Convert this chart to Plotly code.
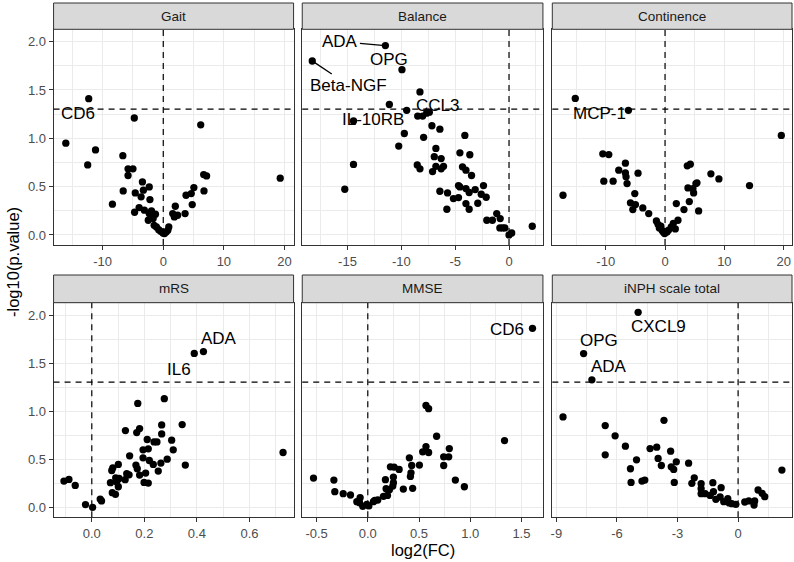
import numpy as np
import plotly.graph_objects as go

# ---------------- data ----------------
panel_names = ["Gait", "Balance", "Continence", "mRS", "MMSE", "iNPH scale total"]

gait_pts = [(-4.78,1.21),(6.18,1.14),(-16.08,0.95),(-11.18,0.88),(-12.47,0.725),(-6.67,0.82),(-5.81,0.684),
            (-5.0,0.684),(-5.81,0.615),(-6.61,0.456),(-8.39,0.318),(-3.44,0.549),(-4.62,0.435),(-3.66,0.394),
            (-3.28,0.463),(-2.31,0.497),(-2.2,0.366),(-4.73,0.235),(-3.98,0.283),(-3.12,0.256),(-2.31,0.221),
            (-1.94,0.249),(-1.29,0.214),(-2.47,0.152),(-1.67,0.169),(-1.5,0.1),(-1.13,0.083),(-0.75,0.055),
            (-0.43,0.038),(-0.05,0.02),(0.2,0.014),(0.48,0.031),(0.91,0.083),(0.75,0.048),(1.56,0.221),
            (1.99,0.297),(1.83,0.187),(2.37,0.204),(3.6,0.221),(3.76,0.411),(4.62,0.428),(5.05,0.49),
            (4.78,0.314),(6.72,0.456),(6.67,0.625),(7.15,0.611),(19.3,0.587)]
gait_labels = [("CD6", -12.3, 1.41)]

balance_pts = [(-9.5,1.29),(-8.48,1.23),(-8.02,1.23),(-7.65,1.26),(-7.4,1.27),(-14.44,1.18),(-7.16,1.13),
               (-6.42,1.095),(-9.72,1.05),(-7.93,1.01),(-4.1,1.03),(-10.24,0.92),(-6.79,0.895),(-6.94,0.81),
               (-6.3,0.79),(-4.56,0.85),(-3.64,0.83),(-14.44,0.73),(-8.52,0.725),(-8.27,0.684),(-7.1,0.656),
               (-6.79,0.71),(-6.3,0.684),(-6.08,0.71),(-4.32,0.705),(-4.0,0.67),(-3.48,0.615),(-15.25,0.473),
               (-4.69,0.511),(-4.56,0.497),(-4.0,0.48),(-3.7,0.439),(-3.14,0.47),(-2.37,0.511),(-6.42,0.452),
               (-5.71,0.435),(-5.16,0.376),(-4.69,0.387),(-4.0,0.325),(-3.7,0.266),(-2.9,0.328),(-2.58,0.421),
               (-2.12,0.39),(-5.77,0.266),(-1.14,0.221),(-2.06,0.152),(-1.54,0.152),(-0.82,0.169),(-0.85,0.073),
               (-0.6,0.073),(-0.39,0.073),(0.0,0.0),(0.25,0.02),(2.16,0.09)]
balance_labels = [("ADA", -11.48, 1.96), ("OPG", -9.94, 1.71), ("Beta-NGF", -18.27, 1.80),
                  ("CCL3", -8.27, 1.48), ("IL-10RB", -11.11, 1.35)]

continence_pts = [(-6.17,1.29),(19.6,1.03),(-10.49,0.839),(-9.48,0.832),(-6.68,0.743),(-7.8,0.67),(-6.68,0.642),
                  (-6.57,0.601),(-4.55,0.639),(-10.32,0.556),(-8.75,0.556),(-6.4,0.532),(-17.2,0.411),
                  (-5.1,0.428),(-5.83,0.332),(-4.99,0.314),(-5.43,0.263),(-3.75,0.28),(-2.75,0.221),(-1.46,0.145),
                  (-1.18,0.11),(-0.96,0.073),(-0.51,0.048),(-0.07,0.014),(0.32,0.031),(1.05,0.083),(1.73,0.062),
                  (2.18,0.152),(1.9,0.325),(3.19,0.263),(4.09,0.345),(5.66,0.249),(3.86,0.487),(4.82,0.435),
                  (4.7,0.48),(5.21,0.532),(5.38,0.539),(3.75,0.715),(4.26,0.732),(7.73,0.632),(9.08,0.58),
                  (14.24,0.511),(-0.3,0.03),(0.6,0.05),(-0.7,0.09),(1.4,0.12)]
continence_labels = [("MCP-1", -15.13, 1.413)]

mrs_pts = [(0.276,1.13),(0.175,1.08),(0.344,0.86),(0.266,0.857),(0.182,0.819),(0.171,0.777),(0.128,0.798),
           (0.266,0.763),(0.211,0.705),(0.304,0.698),(0.237,0.68),(0.248,0.68),(0.195,0.598),(0.215,0.608),
           (0.31,0.598),(0.195,0.515),(0.219,0.487),(0.234,0.446),(0.253,0.377),(0.263,0.46),(0.287,0.501),
           (0.356,0.439),(0.144,0.535),(0.168,0.439),(0.173,0.401),(0.182,0.335),(0.205,0.356),(0.199,0.259),
           (0.215,0.252),(0.133,0.349),(0.142,0.338),(0.127,0.287),(0.104,0.3),(0.101,0.446),(0.08,0.411),
           (0.076,0.383),(0.091,0.307),(0.071,0.256),(0.095,0.263),(0.101,0.214),(0.078,0.152),(0.09,0.135),
           (0.032,0.086),(0.037,0.066),(-0.024,0.028),(0.003,0.0),(-0.106,0.273),(-0.087,0.29),(-0.063,0.228),
           (0.728,0.57)]
mrs_labels = [("ADA", 0.425, 1.62), ("IL6", 0.39, 1.60)]

mmse_pts = [(1.335,0.694),(0.568,1.06),(0.594,1.026),(0.672,0.739),(0.568,0.632),(0.536,0.577),(0.594,0.57),
            (0.796,0.611),(0.741,0.525),(0.79,0.525),(0.741,0.435),(0.406,0.515),(0.429,0.435),(0.504,0.439),
            (0.422,0.359),(0.416,0.321),(0.438,0.197),(0.347,0.19),(0.855,0.283),(0.943,0.214),(0.221,0.421),
            (0.257,0.418),(0.306,0.394),(0.25,0.314),(0.172,0.287),(0.25,0.256),(0.244,0.221),(0.211,0.183),
            (0.179,0.193),(0.192,0.124),(0.153,0.114),(0.097,0.076),(0.068,0.073),(0.055,0.059),(-0.01,0.031),
            (0.01,0.014),(-0.049,0.01),(-0.081,0.048),(-0.075,0.1),(-0.107,0.059),(-0.169,0.128),(-0.24,0.142),
            (-0.322,0.162),(-0.331,0.283),(-0.53,0.304)]
mmse_labels = [("CD6", 1.608, 1.862)]

inph_pts = [(-8.67,0.94),(-3.67,0.905),(-6.58,0.85),(-6.09,0.743),(-5.58,0.636),(-6.58,0.546),(-5.03,0.494),
            (-5.33,0.401),(-5.3,0.259),(-4.76,0.273),(-4.62,0.283),(-4.36,0.611),(-4.03,0.625),(-3.96,0.508),
            (-3.8,0.435),(-3.34,0.584),(-3.06,0.473),(-3.31,0.421),(-3.19,0.394),(-3.16,0.259),(-2.45,0.459),
            (-2.17,0.307),(-2.29,0.249),(-1.83,0.245),(-1.83,0.193),(-1.83,0.142),(-1.63,0.142),(-1.38,0.124),
            (-1.25,0.256),(-1.22,0.162),(-1.1,0.083),(-0.84,0.204),(-0.89,0.107),(-0.71,0.059),(-0.51,0.09),
            (-0.44,0.045),(-0.31,0.038),(-0.11,0.031),(0.33,0.055),(0.53,0.066),(0.79,0.024),(0.82,0.066),
            (0.99,0.18),(1.19,0.145),(1.32,0.11),(2.17,0.387)]
inph_labels = [("CXCL9", -4.95, 2.028), ("OPG", -7.65, 1.599), ("ADA", -7.24, 1.326)]

# tick labels
y_tickvals = [0, 0.5, 1.0, 1.5, 2.0]
y_ticktext = ["0.0", "0.5", "1.0", "1.5", "2.0"]
gait_ticks = ([-10, 0, 10, 20], ["-10", "0", "10", "20"])
balance_ticks = ([-15, -10, -5, 0], ["-15", "-10", "-5", "0"])
continence_ticks = ([-10, 0, 10, 20], ["-10", "0", "10", "20"])
mrs_ticks = ([0.0, 0.2, 0.4, 0.6], ["0.0", "0.2", "0.4", "0.6"])
mmse_ticks = ([-0.5, 0.0, 0.5, 1.0, 1.5], ["-0.5", "0.0", "0.5", "1.0", "1.5"])
inph_ticks = ([-9, -6, -3, 0], ["-9", "-6", "-3", "0"])

SIG = -np.log10(0.05)

# ---------------- layout / styling ----------------
W, H = 794, 562
col_px = [(51.7, 292.3), (301.0, 542.3), (551.7, 792.0)]
row_px = [(29.3, 245.0, 3.0), (302.7, 517.3, 275.0)]  # panel top, panel bottom, strip top

panels = [
    dict(pts=gait_pts, labels=gait_labels, ticks=gait_ticks, xr=[-18.1, 21.5], minor=5),
    dict(pts=balance_pts, labels=balance_labels, ticks=balance_ticks, xr=[-19.2, 3.15], minor=2.5),
    dict(pts=continence_pts, labels=continence_labels, ticks=continence_ticks, xr=[-19.0, 21.4], minor=5),
    dict(pts=mrs_pts, labels=mrs_labels, ticks=mrs_ticks, xr=[-0.1455, 0.768], minor=0.1),
    dict(pts=mmse_pts, labels=mmse_labels, ticks=mmse_ticks, xr=[-0.64, 1.71], minor=0.25),
    dict(pts=inph_pts, labels=inph_labels, ticks=inph_ticks, xr=[-9.2, 2.67], minor=1.5),
]

# label placement offsets in pixels (dx, dy downwards) and whether a segment is drawn
label_style = {
    (0, "CD6"): (-11, 15, False),
    (1, "ADA"): (-45, -4, True),
    (1, "OPG"): (-13, -10, False),
    (1, "Beta-NGF"): (36, 24, True),
    (1, "CCL3"): (18, 14, False),
    (1, "IL-10RB"): (-16, 15, False),
    (2, "MCP-1"): (24, 15, False),
    (3, "ADA"): (16, -13, False),
    (3, "IL6"): (-15, 16, False),
    (4, "CD6"): (-25, 1, False),
    (5, "CXCL9"): (20, 14, False),
    (5, "OPG"): (15, -13, False),
    (5, "ADA"): (17, -13, False),
}

FONT = "Liberation Sans, Arial, Helvetica, sans-serif"
GRID = "#EBEBEB"
BORDER = "#333333"
Y_RANGE = [-0.104, 2.128]

fig = go.Figure()
shapes, annotations = [], []
layout = dict(width=W, height=H, margin=dict(l=0, r=0, t=0, b=0), autosize=False,
              paper_bgcolor="white", plot_bgcolor="white", showlegend=False,
              font=dict(family=FONT, color="black"))

for i, p in enumerate(panels):
    n = i + 1
    sfx = "" if n == 1 else str(n)
    r, c = divmod(i, 3)
    x0p, x1p = col_px[c]
    ptop, pbot, stop = row_px[r]
    xd = [x0p / W, x1p / W]
    yd = [1 - pbot / H, 1 - ptop / H]

    xs = [q[0] for q in p["pts"]] + [l[1] for l in p["labels"]]
    ys = [q[1] for q in p["pts"]] + [l[2] for l in p["labels"]]
    fig.add_trace(go.Scatter(x=xs, y=ys, mode="markers", xaxis="x" + sfx, yaxis="y" + sfx,
                             marker=dict(size=7.3, color="black", line=dict(width=0)),
                             hoverinfo="skip"))

    lo, hi = p["xr"]
    m = p["minor"]
    minor_vals = [v for v in np.arange(np.floor(lo / m) * m, hi + m, m) if lo <= v <= hi]
    layout["xaxis" + sfx] = dict(
        domain=xd, anchor="y" + sfx, range=p["xr"], tickmode="array",
        tickvals=p["ticks"][0], ticktext=p["ticks"][1],
        showgrid=True, gridcolor=GRID, gridwidth=1.1, zeroline=False,
        showline=True, mirror=True, linecolor=BORDER, linewidth=1,
        ticks="outside", ticklen=4, tickwidth=1, tickcolor=BORDER,
        tickfont=dict(size=13, color="#4D4D4D", family=FONT),
        minor=dict(tickmode="array", tickvals=minor_vals, showgrid=True, gridcolor=GRID,
                   gridwidth=0.6, ticks=""),
        fixedrange=True,
    )
    ymin_vals = [0.25, 0.75, 1.25, 1.75]
    layout["yaxis" + sfx] = dict(
        domain=yd, anchor="x" + sfx, range=Y_RANGE, tickmode="array",
        tickvals=y_tickvals, ticktext=y_ticktext,
        showticklabels=(c == 0), ticks="outside" if c == 0 else "",
        ticklen=4, tickwidth=1, tickcolor=BORDER,
        tickfont=dict(size=13, color="#4D4D4D", family=FONT),
        showgrid=True, gridcolor=GRID, gridwidth=1.1, zeroline=False,
        showline=True, mirror=True, linecolor=BORDER, linewidth=1,
        minor=dict(tickmode="array", tickvals=ymin_vals, showgrid=True, gridcolor=GRID,
                   gridwidth=0.6, ticks=""),
        fixedrange=True,
    )

    # dashed reference lines
    shapes.append(dict(type="line", xref="x" + sfx + " domain", yref="y" + sfx,
                       x0=0, x1=1, y0=SIG, y1=SIG,
                       line=dict(color="black", width=1.2, dash="6px,5px")))
    shapes.append(dict(type="line", xref="x" + sfx, yref="y" + sfx + " domain",
                       x0=0, x1=0, y0=0, y1=1,
                       line=dict(color="black", width=1.2, dash="6px,5px")))

    # strip
    shapes.append(dict(type="rect", xref="paper", yref="paper",
                       x0=xd[0], x1=xd[1], y0=1 - ptop / H, y1=1 - stop / H,
                       fillcolor="#D9D9D9", line=dict(color=BORDER, width=1), layer="above"))
    annotations.append(dict(xref="paper", yref="paper", x=(xd[0] + xd[1]) / 2,
                            y=1 - (ptop + stop) / 2 / H, text=panel_names[i], showarrow=False,
                            xanchor="center", yanchor="middle",
                            font=dict(size=13.5, color="#1A1A1A", family=FONT)))

    # gene labels
    for name, lx, ly in p["labels"]:
        dx, dy, seg = label_style[(i, name)]
        if seg:
            annotations.append(dict(xref="x" + sfx, yref="y" + sfx, x=lx, y=ly, text=name,
                                    showarrow=True, ax=dx, ay=dy, arrowhead=0, arrowwidth=1.3,
                                    arrowcolor="black", standoff=3,
                                    font=dict(size=17, color="black", family=FONT)))
        else:
            annotations.append(dict(xref="x" + sfx, yref="y" + sfx, x=lx, y=ly, text=name,
                                    showarrow=False, xshift=dx, yshift=-dy,
                                    xanchor="center", yanchor="middle",
                                    font=dict(size=17, color="black", family=FONT)))

# axis titles
annotations.append(dict(xref="paper", yref="paper", x=(51.7 + 792) / 2 / W, y=1 - 550 / H,
                        text="log2(FC)", showarrow=False, xanchor="center", yanchor="middle",
                        font=dict(size=16.5, color="black", family=FONT)))
annotations.append(dict(xref="paper", yref="paper", x=11 / W, y=1 - 262 / H,
                        text="-log10(p.value)", showarrow=False, textangle=-90,
                        xanchor="center", yanchor="middle",
                        font=dict(size=16.5, color="black", family=FONT)))

layout["shapes"] = shapes
layout["annotations"] = annotations
fig.update_layout(**layout)
fig.write_html("out.html")
